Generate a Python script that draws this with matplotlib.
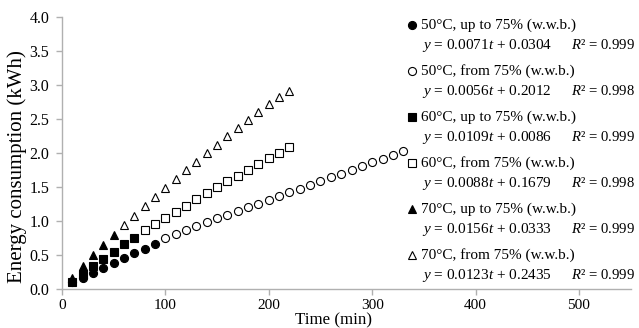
#! /usr/bin/env python
"""Energy consumption vs drying time, linear fits per temperature/moisture range."""

import matplotlib
matplotlib.use('Agg')
import matplotlib.pyplot as plt
from matplotlib.lines import Line2D

plt.rcParams['font.family'] = ['Liberation Serif', 'DejaVu Serif']
plt.rcParams['mathtext.fontset'] = 'custom'
plt.rcParams['mathtext.rm'] = 'Liberation Serif'
plt.rcParams['mathtext.it'] = 'Liberation Serif:italic'

# time (min) and energy (kWh) per series
t_50_up = [10, 20, 30, 40, 50, 60, 70, 80, 90]
e_50_up = [0.10, 0.17, 0.24, 0.32, 0.39, 0.46, 0.53, 0.60, 0.67]
t_50_from = list(range(100, 331, 10))
e_50_from = [0.76, 0.81, 0.87, 0.93, 0.99, 1.05, 1.10, 1.15, 1.21, 1.26,
             1.32, 1.37, 1.43, 1.48, 1.54, 1.59, 1.65, 1.70, 1.76, 1.81,
             1.87, 1.92, 1.98, 2.03]
t_60_up = [10, 20, 30, 40, 50, 60, 70]
e_60_up = [0.10, 0.23, 0.35, 0.45, 0.55, 0.67, 0.76]
t_60_from = list(range(80, 221, 10))
e_60_from = [0.87, 0.96, 1.05, 1.14, 1.23, 1.33, 1.42, 1.51, 1.59, 1.67,
             1.76, 1.85, 1.93, 2.01, 2.09]
t_70_up = [10, 20, 30, 40, 50]
e_70_up = [0.17, 0.34, 0.50, 0.65, 0.80]
t_70_from = list(range(60, 221, 10))
e_70_from = [0.95, 1.08, 1.22, 1.36, 1.49, 1.62, 1.75, 1.87, 2.00, 2.12,
             2.25, 2.37, 2.49, 2.61, 2.73, 2.83, 2.92]

labels = ['50°C, up to 75% (w.w.b.)', '50°C, from 75% (w.w.b.)',
          '60°C, up to 75% (w.w.b.)', '60°C, from 75% (w.w.b.)',
          '70°C, up to 75% (w.w.b.)', '70°C, from 75% (w.w.b.)']
slopes = ['0.0071', '0.0056', '0.0109', '0.0088', '0.0156', '0.0123']
intercepts = ['0.0304', '0.2012', '0.0086', '0.1679', '0.0333', '0.2435']
r2 = ['0.999', '0.998', '0.999', '0.998', '0.999', '0.999']

series = [(t_50_up, e_50_up), (t_50_from, e_50_from),
          (t_60_up, e_60_up), (t_60_from, e_60_from),
          (t_70_up, e_70_up), (t_70_from, e_70_from)]
markers = ['o', 'o', 's', 's', '^', '^']
filled = [True, False, True, False, True, False]
msizes = [5.8, 5.8, 5.4, 5.4, 6.2, 6.2]

fig = plt.figure(figsize=(6.39, 3.28), dpi=100)
ax = fig.add_axes([0.097, 0.118, 0.890, 0.829])

for (t, e), m, f, ms in zip(series, markers, filled, msizes):
    ax.plot(t, e, linestyle='none', marker=m, markersize=ms,
            markerfacecolor='black' if f else 'white',
            markeredgecolor='black', markeredgewidth=0.8)

ax.set_xlim(0, 550)
ax.set_ylim(0, 4.0)
ax.set_xticks([0, 100, 200, 300, 400, 500])
ax.set_yticks([0, 0.5, 1.0, 1.5, 2.0, 2.5, 3.0, 3.5, 4.0])
ax.set_yticklabels(['%.1f' % v for v in ax.get_yticks()])
for s in ['top', 'right']:
    ax.spines[s].set_visible(False)
for s in ['left', 'bottom']:
    ax.spines[s].set_color('#b0b0b0')
    ax.spines[s].set_linewidth(1.0)
ax.tick_params(axis='both', colors='#b0b0b0', labelcolor='black',
               labelsize=11.5, length=4, width=1.0, direction='out')
ax.tick_params(axis='x', pad=3, labelsize=11)
ax.tick_params(axis='y', pad=5)
ax.set_xlabel('Time (min)', fontsize=12.2)
ax.xaxis.set_label_coords(0.478, -0.086)
ax.set_ylabel('Energy consumption (kWh)', fontsize=15)
ax.yaxis.set_label_coords(-0.062, 0.45)

# legend block, drawn by hand (marker + name, then fit line below)
W, H = 639.0, 328.0
for i in range(6):
    y1 = 1 - (25 + 46 * i) / H
    y2 = 1 - (45 + 46 * i) / H
    fig.add_artist(Line2D([412 / W], [y1], transform=fig.transFigure,
                          marker=markers[i], markersize=msizes[i],
                          markerfacecolor='black' if filled[i] else 'white',
                          markeredgecolor='black', markeredgewidth=0.8,
                          linestyle='none'))
    fig.text(421 / W, y1, labels[i], fontsize=11, va='center', ha='left')
    fig.text(422 / W, y2, r'$y$ = %s$t$ + %s' % (slopes[i], intercepts[i]),
             fontsize=11, va='center', ha='left')
    fig.text(571 / W, y2, r'$R$² = %s' % r2[i],
             fontsize=10.6, va='center', ha='left')

fig.savefig('out.png', dpi=100)
